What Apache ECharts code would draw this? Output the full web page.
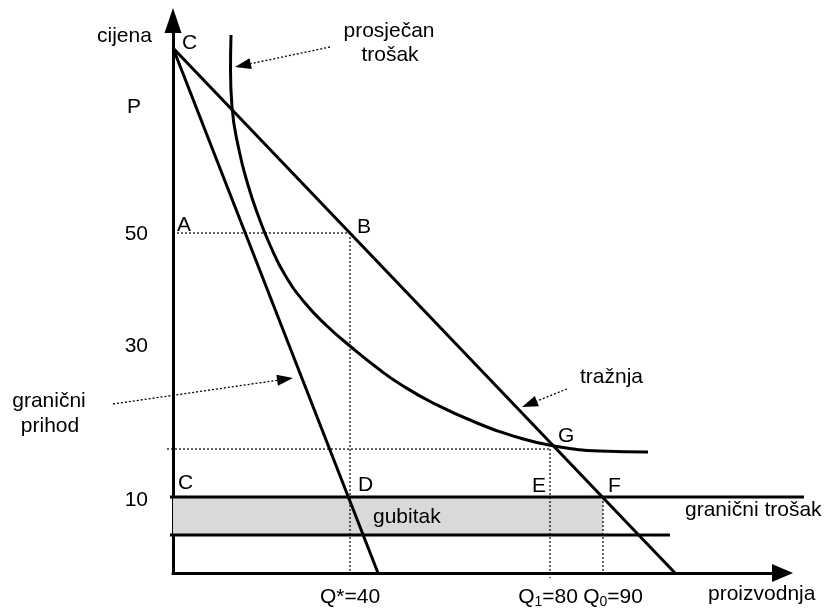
<!DOCTYPE html>
<html><head><meta charset="utf-8">
<script src="https://cdn.jsdelivr.net/npm/echarts@6/dist/echarts.min.js"></script>
<style>html,body{margin:0;padding:0;background:#fff}#c{width:824px;height:610px}</style>
</head><body><div id="c"></div>
<script>
// ---- data (chart units, schematic diagram) ----
const demandX = [0, 100.4];
const demandY = [105, 0];
const mrX = [0, 41];
const mrY = [105, 0];
const acX = [11.6, 11.5, 11.8, 13.2, 15.0, 17.0, 19.4, 22.4, 26.4, 30.8, 35.4, 41.4, 45.4, 52.0, 60.8, 69.4, 76.2, 85.4, 95.0];
const acY = [107.6, 100.6, 93.2, 84.6, 77.6, 71.6, 65.6, 59.6, 54.0, 49.4, 45.4, 40.6, 37.8, 34.0, 30.0, 27.0, 25.4, 24.4, 24.2];
const mcLevel = 15.2;
const mcX = [-0.6, 126.2];
const lowLevel = 7.6;
const lowX = [-0.6, 99.4];
const qStar = 35.4, q1 = 75.4, q0 = 86;
const priceB = 68, priceG = 24.8;
const yTickValues = [67.7, 45.4, 14.6];
const yTickLabels = ['50', '30', '10'];
const xTickValues = [qStar, q1, q0];
const xTickLabels = ['Q*=40', 'Q_1=80', 'Q_0=90'];
const pointNames = ['C', 'A', 'B', 'C', 'D', 'E', 'F', 'G'];
const pointX = [0, 0, qStar, 0, qStar, q1, q0, q1];
const pointY = [105, priceB, priceB, mcLevel, mcLevel, mcLevel, mcLevel, priceG];
// annotation arrows: [fromX, fromY, toX, toY]
const annotArrows = [
  [31.4, 105.2, 12.4, 101.2],
  [78.8, 36.8, 69.8, 33.2],
  [-12, 33.8, 24, 39]
];

// ---- chart ----
const FONT = "'Liberation Sans', Arial, sans-serif";
const chart = echarts.init(document.getElementById('c'));
const zip = (xs, ys) => xs.map((x, i) => [x, ys[i]]);
const solid = (xs, ys, smooth) => ({
  type: 'line', data: zip(xs, ys), symbol: 'none', smooth: smooth || false, clip: false, silent: true,
  lineStyle: { color: '#000', width: 3 }, z: 4
});
// straight segments that may leave the plotting area: drawn by a custom series (no clipping)
const segments = (rows, width, dash, z) => ({
  type: 'custom', silent: true, clip: false, z: z,
  encode: { x: [0, 2], y: [1, 3] },
  data: rows,
  renderItem: function (params, api) {
    const p0 = api.coord([api.value(0), api.value(1)]);
    const p1 = api.coord([api.value(2), api.value(3)]);
    return { type: 'line', shape: { x1: p0[0], y1: p0[1], x2: p1[0], y2: p1[1] },
      style: { stroke: '#000', lineWidth: width, lineDash: dash || null } };
  }
});
const labelOffsets = [[9, -5], [4, -7.5], [7, -5.5], [5, -13.5], [8, -12], [-18, -11], [5, -11], [8, -12.5]];
const xLabelShift = [0, -2, 10];

const txt = (text, x, y, align) => ({
  type: 'text', x: x, y: y, silent: true, z: 10,
  style: { text: text, fill: '#000', fontSize: 21, fontFamily: FONT, align: align || 'left', verticalAlign: 'middle' }
});

chart.setOption({
  animation: false,
  backgroundColor: '#fff',
  grid: { left: 173, right: 41.5, top: 20.5, bottom: 37 },
  xAxis: {
    type: 'value', min: 0, max: 121.9,
    splitLine: { show: false }, axisTick: { show: false }, axisLabel: { show: false },
    axisLine: { show: true, onZero: false, symbol: ['none', 'triangle'], symbolSize: [18, 21], lineStyle: { color: '#000', width: 3 } }
  },
  yAxis: {
    type: 'value', min: 0, max: 110.5,
    splitLine: { show: false }, axisTick: { show: false },
    axisLine: { show: true, onZero: false, symbol: ['none', 'triangle'], symbolSize: [17, 25], lineStyle: { color: '#000', width: 3 } },
    axisLabel: {
      show: true, customValues: yTickValues, hideOverlap: false, margin: 25, color: '#000', fontSize: 21, fontFamily: FONT,
      formatter: function (v) { const i = yTickValues.indexOf(v); return i < 0 ? '' : yTickLabels[i]; }
    }
  },
  graphic: [
    txt('cijena', 97, 36.5),
    txt('P', 134, 107.5, 'center'),
    txt('prosječan', 389, 31, 'center'),
    txt('trošak', 390, 55, 'center'),
    txt('tražnja', 580, 377),
    txt('granični', 49, 401, 'center'),
    txt('prihod', 50, 426, 'center'),
    txt('gubitak', 373, 517),
    txt('granični trošak', 685, 510),
    txt('proizvodnja', 708, 594)
  ],
  series: [
    { type: 'line', data: [], z: 1, silent: true,
      markArea: { silent: true, itemStyle: { color: '#d9d9d9' },
        data: [[{ coord: [0, lowLevel] }, { coord: [q0, mcLevel] }]] } },
    solid(demandX, demandY),
    solid(mrX, mrY),
    solid(acX, acY, true),
    segments([
      [mcX[0], mcLevel, mcX[1], mcLevel],
      [lowX[0], lowLevel, lowX[1], lowLevel]
    ], 3, null, 4),
    segments([
      [0, priceB, qStar, priceB],
      [qStar, priceB, qStar, 0],
      [-1.2, priceG, q1, priceG],
      [q1, priceG, q1, -1],
      [q0, mcLevel, q0, 0]
    ], 1.2, [2, 2], 3),
    {
      type: 'custom', silent: true, clip: false, z: 5,
      encode: { x: [0, 2], y: [1, 3] },
      data: annotArrows,
      renderItem: function (params, api) {
        const p0 = api.coord([api.value(0), api.value(1)]);
        const p1 = api.coord([api.value(2), api.value(3)]);
        const dx = p1[0] - p0[0], dy = p1[1] - p0[1];
        const len = Math.hypot(dx, dy), ux = dx / len, uy = dy / len;
        const L = 16, W = 5.5;
        const bx = p1[0] - ux * L, by = p1[1] - uy * L;
        return { type: 'group', children: [
          { type: 'line', shape: { x1: p0[0], y1: p0[1], x2: bx, y2: by },
            style: { stroke: '#000', lineWidth: 1.3, lineDash: [2, 2] } },
          { type: 'polygon', shape: { points: [[p1[0], p1[1]], [bx - uy * W, by + ux * W], [bx + uy * W, by - ux * W]] },
            style: { fill: '#000' } }
        ] };
      }
    },
    {
      type: 'scatter', symbolSize: 0, silent: true, z: 6,
      itemStyle: { opacity: 1 },
      data: pointNames.map((n, i) => ({
        value: [pointX[i], pointY[i]], name: n,
        label: { show: true, formatter: n, position: labelOffsets[i], align: 'left', verticalAlign: 'middle',
          color: '#000', opacity: 1, fontSize: 21, fontFamily: FONT }
      }))
    },
    {
      // x tick labels (Q values) below the axis
      type: 'scatter', symbolSize: 0, silent: true, z: 6, clip: false,
      itemStyle: { opacity: 1 },
      labelLayout: { hideOverlap: false },
      data: xTickValues.map((v, i) => ({
        value: [v, 0],
        label: { show: true, formatter: xTickLabels[i].replace(/_(\d)/g, '{s|$1}'),
          position: [xLabelShift[i], 24], align: 'center', verticalAlign: 'middle',
          color: '#000', opacity: 1, fontSize: 21, fontFamily: FONT, lineHeight: 24,
          rich: { s: { fontSize: 14, fontFamily: FONT, color: '#000', verticalAlign: 'bottom', lineHeight: 14 } } }
      }))
    }
  ]
});
</script>
</body></html>
